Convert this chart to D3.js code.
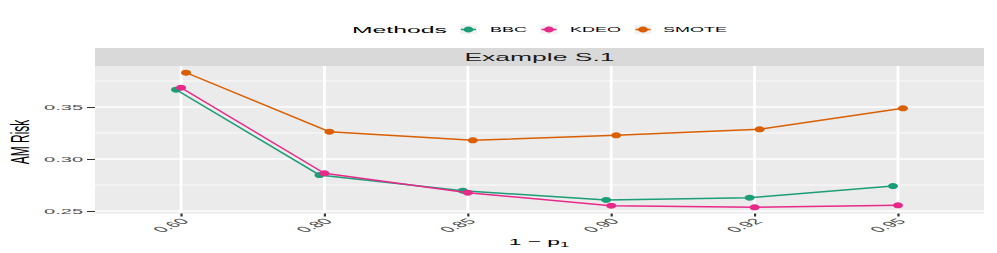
<!DOCTYPE html>
<html><head><meta charset="utf-8">
<script src="https://cdn.jsdelivr.net/npm/d3@7"></script>
<style>html,body{margin:0;padding:0;background:#fff;}svg{display:block;font-family:"Liberation Sans",Arial,sans-serif;}</style>
</head><body>
<script>
const categories = ["0.60","0.80","0.85","0.90","0.92","0.95"];
const methods = ["BBC","KDEO","SMOTE"];
const BBC   = [0.3667, 0.2846, 0.2695, 0.2606, 0.2628, 0.2740];
const KDEO  = [0.3686, 0.2862, 0.2676, 0.2551, 0.2535, 0.2555];
const SMOTE = [0.3830, 0.3263, 0.3180, 0.3228, 0.3286, 0.3487];
const yTicks = [0.25, 0.30, 0.35];
const yMinor = [0.275, 0.325, 0.375];
const colors = ["#1B9E77","#E7298A","#D95F02"];
const seriesVals = [BBC, KDEO, SMOTE];

const W = 997, H = 253;
const K = 2.5; // horizontal text stretch
const panel = {l:95, r:984, t:66, b:213.5};
const stripTop = 48;

const svg = d3.select("body").append("svg").attr("width",W).attr("height",H);

const x = d3.scalePoint().domain(categories).range([panel.l, panel.r]).padding(0.6);
const dodge = d3.scalePoint().domain(methods).range([-5, 5]);
const y = d3.scaleLinear().domain([0.30 - (panel.b-159)/1040, 0.30 + (159-panel.t)/1040]).range([panel.b, panel.t]);
const color = d3.scaleOrdinal().domain(methods).range(colors);

svg.append("rect").attr("x",panel.l).attr("y",panel.t).attr("width",panel.r-panel.l).attr("height",panel.b-panel.t).attr("fill","#EBEBEB");
svg.append("rect").attr("x",panel.l).attr("y",stripTop).attr("width",panel.r-panel.l).attr("height",panel.t-stripTop).attr("fill","#D9D9D9");
svg.append("text").attr("transform",`translate(${(panel.l+panel.r)/2},${(stripTop+panel.t)/2}) scale(${K},1)`)
  .attr("text-anchor","middle").attr("dominant-baseline","central").attr("font-size",10.6).attr("fill","#1A1A1A").text("Example S.1");

svg.append("g").selectAll("line").data(yMinor).join("line")
  .attr("x1",panel.l).attr("x2",panel.r).attr("y1",d=>y(d)).attr("y2",d=>y(d)).attr("stroke","#fff").attr("stroke-width",0.8);
svg.append("g").selectAll("line").data(yTicks).join("line")
  .attr("x1",panel.l).attr("x2",panel.r).attr("y1",d=>y(d)).attr("y2",d=>y(d)).attr("stroke","#fff").attr("stroke-width",1.5);
svg.append("g").selectAll("line").data(categories).join("line")
  .attr("x1",d=>x(d)).attr("x2",d=>x(d)).attr("y1",panel.t).attr("y2",panel.b).attr("stroke","#fff").attr("stroke-width",2.8);

const yAxis = d3.axisLeft(y).tickValues(yTicks).tickSize(8).tickFormat(d3.format(".2f"));
const gy = svg.append("g").attr("transform",`translate(${panel.l},0)`).call(yAxis);
gy.select(".domain").remove();
gy.selectAll(".tick line").attr("stroke","#333").attr("stroke-width",1);
gy.selectAll(".tick text").attr("x",null).attr("dy",null)
  .attr("transform",`translate(-12,0) scale(${K},1)`).attr("text-anchor","end").attr("dominant-baseline","central")
  .attr("font-size",8).attr("fill","#4D4D4D").attr("font-family","Liberation Sans, Arial, sans-serif");

const xAxis = d3.axisBottom(x).tickSize(3);
const gx = svg.append("g").attr("transform",`translate(0,${panel.b})`).call(xAxis);
gx.select(".domain").remove();
gx.selectAll(".tick line").attr("stroke","#333").attr("stroke-width",2.2);
gx.selectAll(".tick text").attr("y",null).attr("dy",null)
  .attr("transform",`translate(-2,4) scale(${K},1) rotate(-45)`).attr("text-anchor","end").attr("dominant-baseline","hanging")
  .attr("font-size",8.2).attr("fill","#4D4D4D").attr("font-family","Liberation Sans, Arial, sans-serif");

const data = methods.map((m,i)=>({m, pts: categories.map((c,j)=>({c, v: seriesVals[i][j]}))}));
const line = d3.line().x(d=>d.x).y(d=>d.y);
data.forEach(s=>{
  const pts = s.pts.map(p=>({x: x(p.c)+dodge(s.m), y: y(p.v)}));
  svg.append("path").attr("d",line(pts)).attr("fill","none").attr("stroke",color(s.m)).attr("stroke-width",1.5);
  svg.append("g").selectAll("ellipse").data(pts).join("ellipse")
    .attr("cx",d=>d.x).attr("cy",d=>d.y).attr("rx",5).attr("ry",3).attr("fill",color(s.m));
});

const xt = svg.append("text").attr("transform",`translate(539,245) scale(2.4,1)`).attr("text-anchor","middle")
  .attr("font-size",9.5).attr("fill","#000");
xt.append("tspan").text("1 − p");
xt.append("tspan").attr("font-size",7).attr("dy",2).text("1");

svg.append("text").attr("transform",`translate(20,142) scale(2.1,1) rotate(-90)`).attr("text-anchor","middle")
  .attr("dominant-baseline","central").attr("font-size",12).attr("fill","#000").text("AM Risk");

const ly = 29.5;
svg.append("text").attr("transform",`translate(352,${ly}) scale(${K},1)`).attr("dominant-baseline","central")
  .attr("font-size",9.9).attr("fill","#000").text("Methods");
const keyX = [460, 540.5, 634.5];
const labX = [490, 570, 663];
methods.forEach((m,i)=>{
  svg.append("rect").attr("x",keyX[i]).attr("y",ly-4.5).attr("width",17).attr("height",9).attr("fill","#F2F2F2");
  svg.append("line").attr("x1",keyX[i]+1).attr("x2",keyX[i]+16).attr("y1",ly).attr("y2",ly).attr("stroke",color(m)).attr("stroke-width",1.5);
  svg.append("ellipse").attr("cx",keyX[i]+8.5).attr("cy",ly).attr("rx",5).attr("ry",3).attr("fill",color(m));
  svg.append("text").attr("transform",`translate(${labX[i]},${ly}) scale(${K},1)`).attr("dominant-baseline","central")
    .attr("font-size",7.2).attr("fill","#000").text(m);
});
</script>
</body></html>
